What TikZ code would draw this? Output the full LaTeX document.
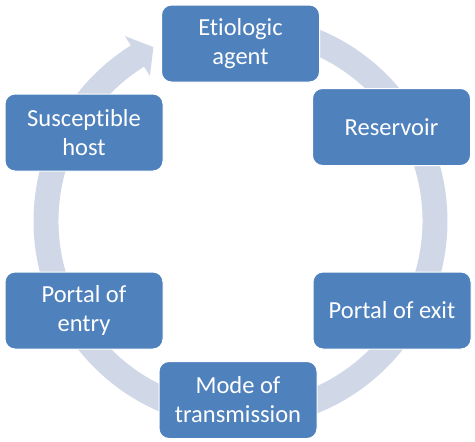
\documentclass[tikz,border=0pt]{standalone}
\usepackage{fontspec}
\setmainfont[Ligatures={NoCommon}]{Carlito}
\definecolor{boxblue}{RGB}{79,129,189}
\definecolor{ringgray}{RGB}{208,216,232}
\begin{document}
\begin{tikzpicture}[x=1pt,y=-1pt,
  stagebox/.style={draw=white, line width=1pt, fill=boxblue, rounded corners=10pt,
    minimum width=158pt, minimum height=77pt, text=white, align=center,
    font=\fontsize{24.5}{29}\selectfont, inner sep=2pt}]
\useasboundingbox (0,0) rectangle (475,442);
% circular arrow
\begin{scope}[shift={(240.5,221)}, y=1pt]
  \fill[ringgray] (90:207) arc[start angle=90, end angle=-238, radius=207]
    -- (-238:218) -- (-243.4:194.5) -- (-238:171) -- (-238:182)
    arc[start angle=-238, end angle=90, radius=182] -- cycle;
\end{scope}
\node[stagebox] (agent) at (240.5,43.5) {Etiologic\\agent};
\node[stagebox] (res) at (391.5,127) {Reservoir};
\node[stagebox] (exit) at (392,310.5) {Portal of exit};
\node[stagebox] (mode) at (238,400) {Mode of\\transmission};
\node[stagebox] (entry) at (84,310.5) {Portal of\\entry};
\node[stagebox] (host) at (84,132.5) {Susceptible\\host};
\end{tikzpicture}
\end{document}
